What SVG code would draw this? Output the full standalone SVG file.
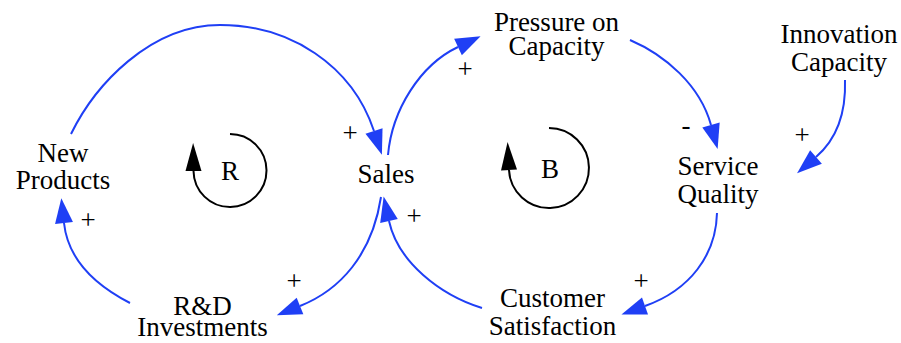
<svg xmlns="http://www.w3.org/2000/svg" width="901" height="343" viewBox="0 0 901 343">
<style>
text{font-family:'Liberation Serif','Times New Roman',Times,'Noto Serif','DejaVu Serif',Tinos,FreeSerif,serif;font-size:27px;fill:#000;text-anchor:middle}
.e{fill:none;stroke:#1f3ff5;stroke-width:2;marker-end:url(#ah)}
.l{fill:none;stroke:#000;stroke-width:2;marker-end:url(#lh)}
</style>
<defs>
<marker id="ah" markerUnits="userSpaceOnUse" viewBox="0 -10 26 20" markerWidth="26" markerHeight="20" refX="0" refY="0" orient="auto" overflow="visible">
<path d="M0,-9 L25,0 L0,9 z" fill="#1f3ff5"/>
</marker>
<marker id="lh" markerUnits="userSpaceOnUse" viewBox="0 -10 30 20" markerWidth="30" markerHeight="20" refX="0" refY="0" orient="auto" overflow="visible">
<path d="M0,-8 L28,0 L0,8 z" fill="#000"/>
</marker>
</defs>
<g id="connectors">
<path class="e" d="M71,134 C95,85 150,25 220,25 C290,25 352,65 374,131"/>
<path class="e" d="M130,303 C95,285 68,260 64,223"/>
<path class="e" d="M381,197 C372,255 340,290 300,306"/>
<path class="e" d="M388,155 C392,110 420,65 458,47"/>
<path class="e" d="M630,40 C665,55 700,85 711,125"/>
<path class="e" d="M845,80 C846,110 838,138 816,157"/>
<path class="e" d="M717,213 C716,255 690,290 645,306"/>
<path class="e" d="M482,308 C440,295 398,262 389,221"/>
<text x="350" y="142">+</text>
<text x="88" y="229">+</text>
<text x="294" y="290">+</text>
<text x="414" y="225">+</text>
<text x="465" y="78">+</text>
<text x="686" y="134">-</text>
<text x="802" y="144">+</text>
<text x="641" y="290">+</text>
</g>
<g id="loop-R">
<path class="l" d="M230,134 A36.5,36.5 0 1 1 193.5,171"/>
<text x="230" y="180">R</text>
</g>
<g id="loop-B">
<path class="l" d="M549,128 A40,40 0 1 1 509,170"/>
<text x="550" y="178">B</text>
</g>
<g id="new-products"><text x="63" y="162">New</text><text x="63" y="189">Products</text></g>
<g id="sales"><text x="386" y="183">Sales</text></g>
<g id="rd-investments"><text x="202.5" y="315">R&amp;D</text><text x="202.5" y="336">Investments</text></g>
<g id="pressure-on-capacity"><text x="556.5" y="31">Pressure on</text><text x="556.5" y="55">Capacity</text></g>
<g id="innovation-capacity"><text x="839" y="43">Innovation</text><text x="839" y="71">Capacity</text></g>
<g id="service-quality"><text x="718" y="175">Service</text><text x="718" y="203">Quality</text></g>
<g id="customer-satisfaction"><text x="552.5" y="307">Customer</text><text x="552.5" y="335">Satisfaction</text></g>
</svg>
